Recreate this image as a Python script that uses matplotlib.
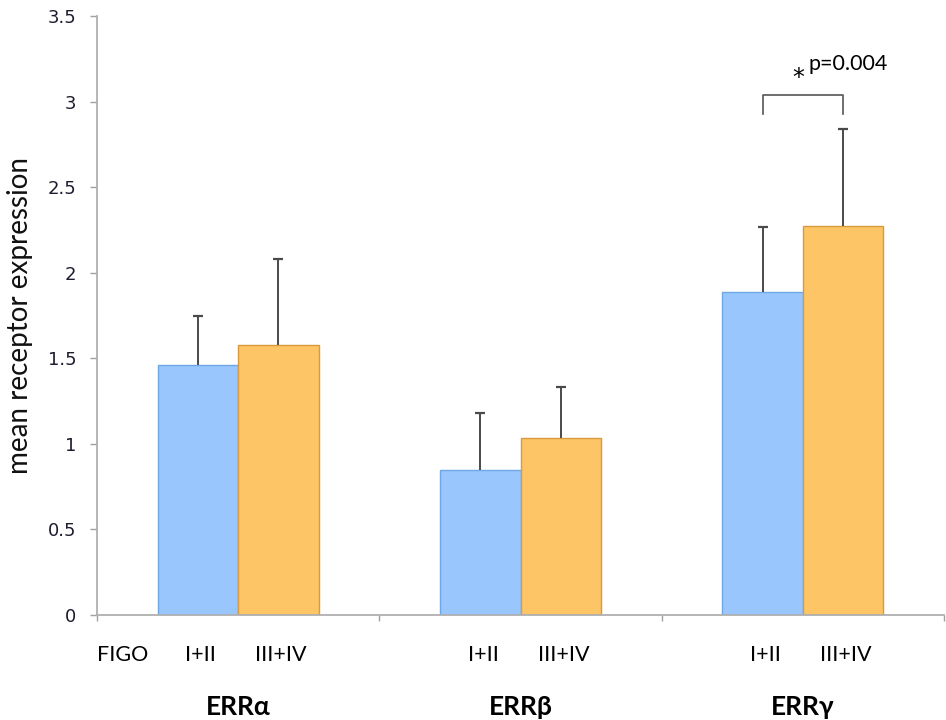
import matplotlib
matplotlib.use("Agg")
import matplotlib.pyplot as plt
import numpy as np

receptors = ["ERRα", "ERRβ", "ERRγ"]
stages = ["I+II", "III+IV"]
mean_early = [1.46, 0.85, 1.885]
sd_early = [0.285, 0.33, 0.38]
mean_late = [1.58, 1.035, 2.275]
sd_late = [0.50, 0.30, 0.565]
y_ticks = [0, 0.5, 1, 1.5, 2, 2.5, 3, 3.5]
y_ticklabels = ["0", "0.5", "1", "1.5", "2", "2.5", "3", "3.5"]
sig_text = "p=0.004"

fig = plt.figure(figsize=(9.46, 7.2), dpi=100)
ax = fig.add_axes([0.1025, 0.1458, 0.8955, 0.8320])

x = np.arange(len(receptors))
w = 0.285
blue = "#99c7fd"
blue_edge = "#6ea6e6"
orange = "#fdc566"
orange_edge = "#d99a3c"
err_color = "#4a4a4a"

ax.bar(x - w / 2, mean_early, width=w, color=blue, edgecolor=blue_edge, linewidth=1.0, zorder=2)
ax.bar(x + w / 2, mean_late, width=w, color=orange, edgecolor=orange_edge, linewidth=1.0, zorder=2)

for xs, m, s in [(x - w / 2, mean_early, sd_early), (x + w / 2, mean_late, sd_late)]:
    m = np.asarray(m)
    s = np.asarray(s)
    ax.vlines(xs, m, m + s, color=err_color, lw=1.4, zorder=3)
    ax.plot(xs, m + s, ls="none", marker="_", ms=7, mew=1.6, color=err_color, zorder=3)

ax.set_xlim(-0.5, 2.5)
ax.set_ylim(0, 3.5)
ax.set_yticks(y_ticks)
ax.set_yticklabels(y_ticklabels, fontsize=13, color="#1c1c30", family=["Verdana", "DejaVu Sans"])
ax.set_xticks([-0.5, 0.5, 1.5, 2.5])
ax.set_xticklabels([])
ax.tick_params(axis="y", length=5, width=1, color="#a0a0a0", pad=10)
ax.tick_params(axis="x", length=4, width=1, color="#a0a0a0")
for s in ["top", "right"]:
    ax.spines[s].set_visible(False)
for s in ["left", "bottom"]:
    ax.spines[s].set_color("#b0b0b0")
    ax.spines[s].set_linewidth(1.3)

fam = ["Lato", "DejaVu Sans"]
ax.set_ylabel("mean receptor expression", fontsize=20, family=fam,
              color="#111111", labelpad=10)

trans = ax.get_xaxis_transform()
ax.text(-0.41, -0.067, "FIGO", transform=trans, ha="center", va="center", fontsize=15.5, family=fam)
for i in range(len(receptors)):
    ax.text(x[i] - w / 2 + 0.01, -0.067, stages[0], transform=trans, ha="center", va="center",
            fontsize=15.5, family=fam)
    ax.text(x[i] + w / 2 + 0.01, -0.067, stages[1], transform=trans, ha="center", va="center",
            fontsize=15.5, family=fam)
    ax.text(x[i], -0.153, receptors[i], transform=trans, ha="center", va="center",
            fontsize=19, fontweight="bold", family=fam)

# significance bracket for ERRγ
x1, x2 = x[2] - w / 2, x[2] + w / 2
y_top = 3.04
y_leg = 2.93
ax.plot([x1, x1, x2, x2], [y_leg, y_top, y_top, y_leg], color="#555555", lw=1.2, zorder=3)
ax.text(x[2] - 0.015, 3.14, "*", ha="center", va="center", fontsize=17, family=["DejaVu Sans"])
ax.text(x[2] + 0.02, 3.22, sig_text, ha="left", va="center", fontsize=15.5, family=fam)

fig.savefig("out.png", dpi=100)
